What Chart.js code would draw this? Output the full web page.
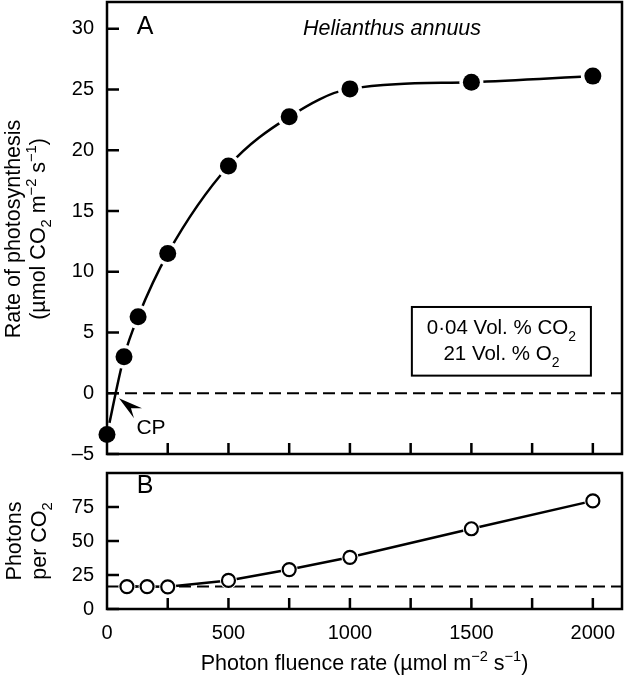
<!DOCTYPE html>
<html>
<head>
<meta charset="utf-8">
<script src="https://cdn.jsdelivr.net/npm/chart.js@4.4.1/dist/chart.umd.min.js"></script>
<style>
  html, body { margin: 0; padding: 0; background: #fff; }
  #wrap { position: relative; width: 626px; height: 683px; }
  #wrap canvas { position: absolute; left: 0; }
</style>
</head>
<body>
<div id="wrap">
  <canvas id="chartA" width="626" height="470" style="top:0"></canvas>
  <canvas id="chartB" width="626" height="223" style="top:460px"></canvas>
</div>
<script>
// panel A: net photosynthesis vs photon fluence rate
const lightA = [0, 70, 128, 250, 500, 750, 1000, 1500, 2000];
const rateA = [-3.4, 3.0, 6.3, 11.5, 18.7, 22.75, 25.05, 25.6, 26.1];
// panel B: quantum requirement
const lightB = [82, 165, 250, 500, 750, 1000, 1500, 2000];
const photonsB = [16.5, 16.5, 16.3, 21, 29, 38, 59, 79.5];

const yTicksA = [-5, 0, 5, 10, 15, 20, 25, 30];
const yTicksB = [0, 25, 50, 75];
const xTickLabels = [0, 500, 1000, 1500, 2000];
const xTickMarks = [250, 500, 750, 1000, 1250, 1500, 1750, 2000];
const zeroLevel = 0;
const minQuantum = 16.5;
const compPoint = 37;   // light compensation point (CP)
const xMax = 2120;

const FONT = '"Liberation Sans", Arial, Helvetica, sans-serif';
Chart.defaults.font.family = FONT;
Chart.defaults.color = '#000';

// text with sub/superscripts: parts = [[text, 0|1|-1], ...]  (1 = sub, -1 = sup)
function drawRich(ctx, parts, cx, cy, size, italic) {
  const style = italic ? 'italic ' : '';
  let total = 0;
  for (const [t, s] of parts) {
    ctx.font = style + (s ? size * 0.68 : size) + 'px ' + FONT;
    total += ctx.measureText(t).width;
  }
  let x = cx - total / 2;
  const base = cy + size * 0.36;
  ctx.textAlign = 'left';
  ctx.textBaseline = 'alphabetic';
  for (const [t, s] of parts) {
    ctx.font = style + (s ? size * 0.68 : size) + 'px ' + FONT;
    const dy = s === 1 ? size * 0.3 : s === -1 ? -size * 0.42 : 0;
    ctx.fillText(t, x, base + dy);
    x += ctx.measureText(t).width;
  }
}
function drawRotated(ctx, parts, cx, cy, size) {
  ctx.save();
  ctx.translate(cx, cy);
  ctx.rotate(-Math.PI / 2);
  drawRich(ctx, parts, 0, 0, size);
  ctx.restore();
}

const frame = {
  id: 'frame',
  afterDraw(chart, args, opts) {
    const { ctx, chartArea: a, scales } = chart;
    ctx.save();
    ctx.strokeStyle = '#000';
    ctx.lineWidth = 2.5;
    ctx.strokeRect(a.left, a.top, a.right - a.left, a.bottom - a.top);
    ctx.beginPath();
    for (const v of xTickMarks) {
      const p = scales.x.getPixelForValue(v);
      ctx.moveTo(p, a.bottom);
      ctx.lineTo(p, a.bottom - 11);
    }
    for (const v of opts.yTicks) {
      const p = scales.y.getPixelForValue(v);
      ctx.moveTo(a.left, p);
      ctx.lineTo(a.left + 12, p);
    }
    ctx.stroke();
    ctx.fillStyle = '#000';
    if (opts.draw) opts.draw(chart, ctx);
    ctx.restore();
  }
};

function fixY(width) {
  return (s) => { s.width = width; s.paddingTop = 0; s.paddingBottom = 0; };
}

function seriesSets(xs, ys, marker, haloR, curve) {
  const pts = xs.map((x, i) => ({ x, y: ys[i] }));
  return [
    Object.assign({ data: pts, showLine: false, clip: false }, marker),
    { data: pts, showLine: false, pointRadius: haloR, pointBackgroundColor: '#fff',
      pointBorderWidth: 0, pointHoverRadius: haloR },
    Object.assign({ data: pts, borderColor: '#000', borderWidth: 2.5, pointRadius: 0,
      pointHoverRadius: 0 }, curve)
  ];
}

function refLine(level) {
  return { data: [{ x: 0, y: level }, { x: xMax, y: level }], borderColor: '#000',
    borderWidth: 2, borderDash: [12, 6], pointRadius: 0, pointHoverRadius: 0, showLine: true };
}

new Chart(document.getElementById('chartA'), {
  type: 'scatter',
  data: {
    datasets: [
      ...seriesSets(lightA, rateA,
        { pointRadius: 8.5, pointBackgroundColor: '#000', pointBorderWidth: 0, pointHoverRadius: 8.5 },
        12, { showLine: true, cubicInterpolationMode: 'monotone' }),
      refLine(zeroLevel)
    ]
  },
  options: {
    responsive: false,
    animation: false,
    events: [],
    layout: { autoPadding: false, padding: { left: 0, right: 4, top: 2, bottom: 16 } },
    plugins: {
      legend: { display: false },
      tooltip: { enabled: false },
      frame: {
        yTicks: yTicksA,
        draw(chart, ctx) {
          const x = chart.scales.x, y = chart.scales.y;
          ctx.font = '25px ' + FONT;
          ctx.textAlign = 'center';
          ctx.textBaseline = 'middle';
          ctx.fillText('A', 145, chart.chartArea.top + 25);
          drawRich(ctx, [['Helianthus annuus', 0]], 392, chart.chartArea.top + 25, 21.5, true);
          drawRotated(ctx, [['Rate of photosynthesis', 0]], 12, 229, 21.5);
          drawRotated(ctx, [['(\u00b5mol CO', 0], ['2', 1], [' m', 0], ['\u22122', -1], [' s', 0], ['\u22121', -1], [')', 0]], 37, 229, 21.5);
          // conditions box
          const bx0 = x.getPixelForValue(1255), bx1 = x.getPixelForValue(1992);
          const by0 = y.getPixelForValue(7.1), by1 = y.getPixelForValue(1.45);
          ctx.lineWidth = 2;
          ctx.strokeRect(bx0, by0, bx1 - bx0, by1 - by0);
          const mx = (bx0 + bx1) / 2;
          drawRich(ctx, [['0\u00b704 Vol. % CO', 0], ['2', 1]], mx, by0 + 20, 20.5);
          drawRich(ctx, [['21 Vol. % O', 0], ['2', 1]], mx, by0 + 46, 20.5);
          // compensation point arrow
          const px = x.getPixelForValue(compPoint), py = y.getPixelForValue(zeroLevel);
          ctx.beginPath();
          ctx.moveTo(px + 3, py + 5);
          ctx.lineTo(px + 26, py + 15);
          ctx.lineTo(px + 15, py + 15);
          ctx.lineTo(px + 18, py + 25);
          ctx.closePath();
          ctx.fill();
          ctx.font = '21px ' + FONT;
          ctx.textAlign = 'center';
          ctx.textBaseline = 'middle';
          ctx.fillText('CP', px + 35, py + 35);
        }
      }
    },
    scales: {
      x: { type: 'linear', min: 0, max: xMax, display: false },
      y: {
        type: 'linear', min: -5, max: 32.2,
        grid: { display: false, drawTicks: false },
        border: { display: false },
        afterBuildTicks: (s) => { s.ticks = yTicksA.map(v => ({ value: v })); },
        afterFit: fixY(107),
        ticks: {
          autoSkip: false, padding: 13, font: { size: 20 },
          callback: (v) => (v < 0 ? '\u2013' + Math.abs(v) : String(v))
        }
      }
    }
  },
  plugins: [frame]
});

new Chart(document.getElementById('chartB'), {
  type: 'scatter',
  data: {
    datasets: [
      ...seriesSets(lightB, photonsB,
        { pointRadius: 6.5, pointBackgroundColor: '#fff', pointBorderColor: '#000',
          pointBorderWidth: 2.2, pointHoverRadius: 6.5 },
        8.5, { showLine: true, tension: 0 }),
      refLine(minQuantum)
    ]
  },
  options: {
    responsive: false,
    animation: false,
    events: [],
    layout: { autoPadding: false, padding: { left: 0, right: 4, top: 13, bottom: 0 } },
    plugins: {
      legend: { display: false },
      tooltip: { enabled: false },
      frame: {
        yTicks: yTicksB,
        draw(chart, ctx) {
          const a = chart.chartArea;
          ctx.font = '25px ' + FONT;
          ctx.textAlign = 'center';
          ctx.textBaseline = 'middle';
          ctx.fillText('B', 145, a.top + 13);
          const cy = (a.top + a.bottom) / 2;
          drawRotated(ctx, [['Photons', 0]], 13, cy, 21.5);
          drawRotated(ctx, [['per CO', 0], ['2', 1]], 38, cy, 21.5);
          drawRich(ctx, [['Photon fluence rate (\u00b5mol m', 0], ['\u22122', -1], [' s', 0], ['\u22121', -1], [')', 0]],
            (a.left + a.right) / 2, 202, 21.5);
        }
      }
    },
    scales: {
      x: {
        type: 'linear', min: 0, max: xMax,
        grid: { display: false, drawTicks: false },
        border: { display: false },
        afterBuildTicks: (s) => { s.ticks = xTickLabels.map(v => ({ value: v })); },
        afterFit: (s) => { s.height = 74; s.paddingLeft = 0; s.paddingRight = 0; },
        ticks: { autoSkip: false, maxRotation: 0, padding: 12, font: { size: 20 },
          callback: (v) => String(v) }
      },
      y: {
        type: 'linear', min: 0, max: 100,
        grid: { display: false, drawTicks: false },
        border: { display: false },
        afterBuildTicks: (s) => { s.ticks = yTicksB.map(v => ({ value: v })); },
        afterFit: fixY(107),
        ticks: { autoSkip: false, padding: 13, font: { size: 20 } }
      }
    }
  },
  plugins: [frame]
});
</script>
</body>
</html>
